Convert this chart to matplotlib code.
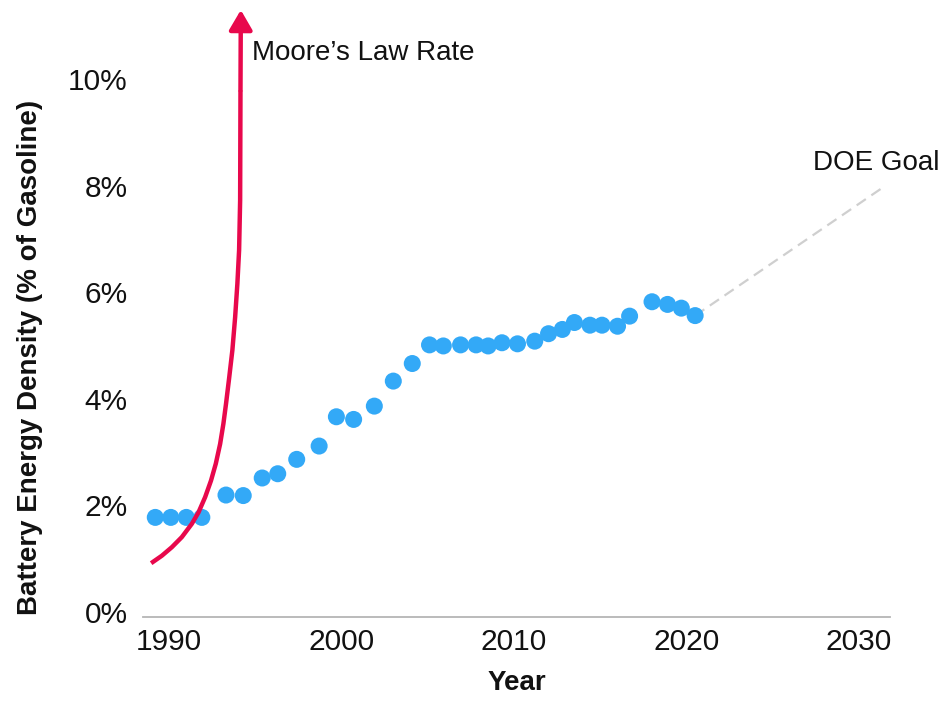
import matplotlib
matplotlib.use("Agg")
import matplotlib.pyplot as plt

# Battery energy density as a share of gasoline, by year
years = [1989.2, 1990.1, 1991.0, 1991.9, 1993.3, 1994.3, 1995.4, 1996.3,
         1997.4, 1998.7, 1999.7, 2000.7, 2001.9, 2003.0, 2004.1, 2005.1,
         2005.9, 2006.9, 2007.8, 2008.5, 2009.3, 2010.2, 2011.2, 2012.0,
         2012.8, 2013.5, 2014.4, 2015.1, 2016.0, 2016.7, 2018.0, 2018.9,
         2019.7, 2020.5]
density = [1.77, 1.77, 1.77, 1.77, 2.19, 2.18, 2.51, 2.59,
           2.86, 3.11, 3.66, 3.61, 3.86, 4.33, 4.66, 5.01,
           4.99, 5.01, 5.01, 4.99, 5.05, 5.03, 5.08, 5.22,
           5.30, 5.43, 5.38, 5.38, 5.36, 5.55, 5.82, 5.77,
           5.70, 5.56]

# Hypothetical Moore's-law-paced improvement
moore_years = [1988.96, 1989.58, 1990.16, 1990.74, 1991.32, 1991.70, 1992.09,
               1992.43, 1992.71, 1992.96, 1993.15, 1993.30, 1993.48, 1993.67,
               1993.83, 1993.96, 1994.06, 1994.12, 1994.14, 1994.16]
moore_values = [0.91, 1.05, 1.21, 1.40, 1.65, 1.86, 2.15,
                2.46, 2.78, 3.15, 3.53, 3.90, 4.38, 4.91,
                5.53, 6.16, 6.79, 7.73, 9.79, 11.3]

# Department of Energy target trajectory
doe_years = [2020.5, 2031.4]
doe_values = [5.56, 7.97]

x_ticks = [1990, 2000, 2010, 2020, 2030]
y_ticks = [0, 2, 4, 6, 8, 10]
y_tick_labels = ["0%", "2%", "4%", "6%", "8%", "10%"]

BLUE = "#33a9f7"
RED = "#e8084c"
GRAY_DASH = "#cfcfcf"

plt.rcParams["font.family"] = ["Liberation Sans", "DejaVu Sans"]

fig = plt.figure(figsize=(9.51, 7.06), dpi=100)
ax = fig.add_axes([0.1504, 0.1261, 0.9359 - 0.1504, 0.9972 - 0.1261])

ax.set_xlim(1988.49, 2031.8)
ax.set_ylim(-0.1, 11.45)

ax.plot(doe_years, doe_values, color=GRAY_DASH, lw=1.6,
        dashes=(5, 3), zorder=1, solid_capstyle="butt")
ax.scatter(years, density, s=150, color=BLUE, edgecolors="none", zorder=3)

# Moore's law curve ending in an arrow head
ax.plot(moore_years[:-1], moore_values[:-1], color=RED, lw=3.2,
        zorder=4, clip_on=False, solid_capstyle="butt",
        solid_joinstyle="round")
ax.annotate("", xy=(moore_years[-1], moore_values[-1]),
            xytext=(moore_years[-2], moore_values[-2]),
            arrowprops=dict(arrowstyle="-|>,head_length=12,head_width=7",
                            mutation_scale=1, color=RED, lw=3.2,
                            shrinkA=0, shrinkB=0),
            zorder=4, annotation_clip=False)

ax.text(1994.81, 10.36, "Moore\u2019s Law Rate", fontsize=20,
        color="#111111", ha="left", va="baseline")
ax.text(2027.33, 8.30, "DOE Goal", fontsize=20,
        color="#111111", ha="left", va="baseline")

for side in ("top", "right", "left"):
    ax.spines[side].set_visible(False)
ax.spines["bottom"].set_color("#b5b5b5")
ax.spines["bottom"].set_linewidth(1.3)

ax.set_xticks(x_ticks)
ax.set_xticklabels([str(t) for t in x_ticks])
ax.set_yticks(y_ticks)
ax.set_yticklabels(y_tick_labels)
ax.tick_params(axis="both", length=0, labelsize=21.5, colors="#111111")
ax.tick_params(axis="x", pad=8)
ax.tick_params(axis="y", pad=11)

fig.text(0.0315, 0.494, "Battery Energy Density (% of Gasoline)",
         rotation=90, fontsize=20, fontweight="bold", color="#111111",
         ha="center", va="center")
fig.text(0.5436, 0.022, "Year", fontsize=20, fontweight="bold",
         color="#111111", ha="center", va="baseline")

fig.savefig("out.png", dpi=100, facecolor="white")
